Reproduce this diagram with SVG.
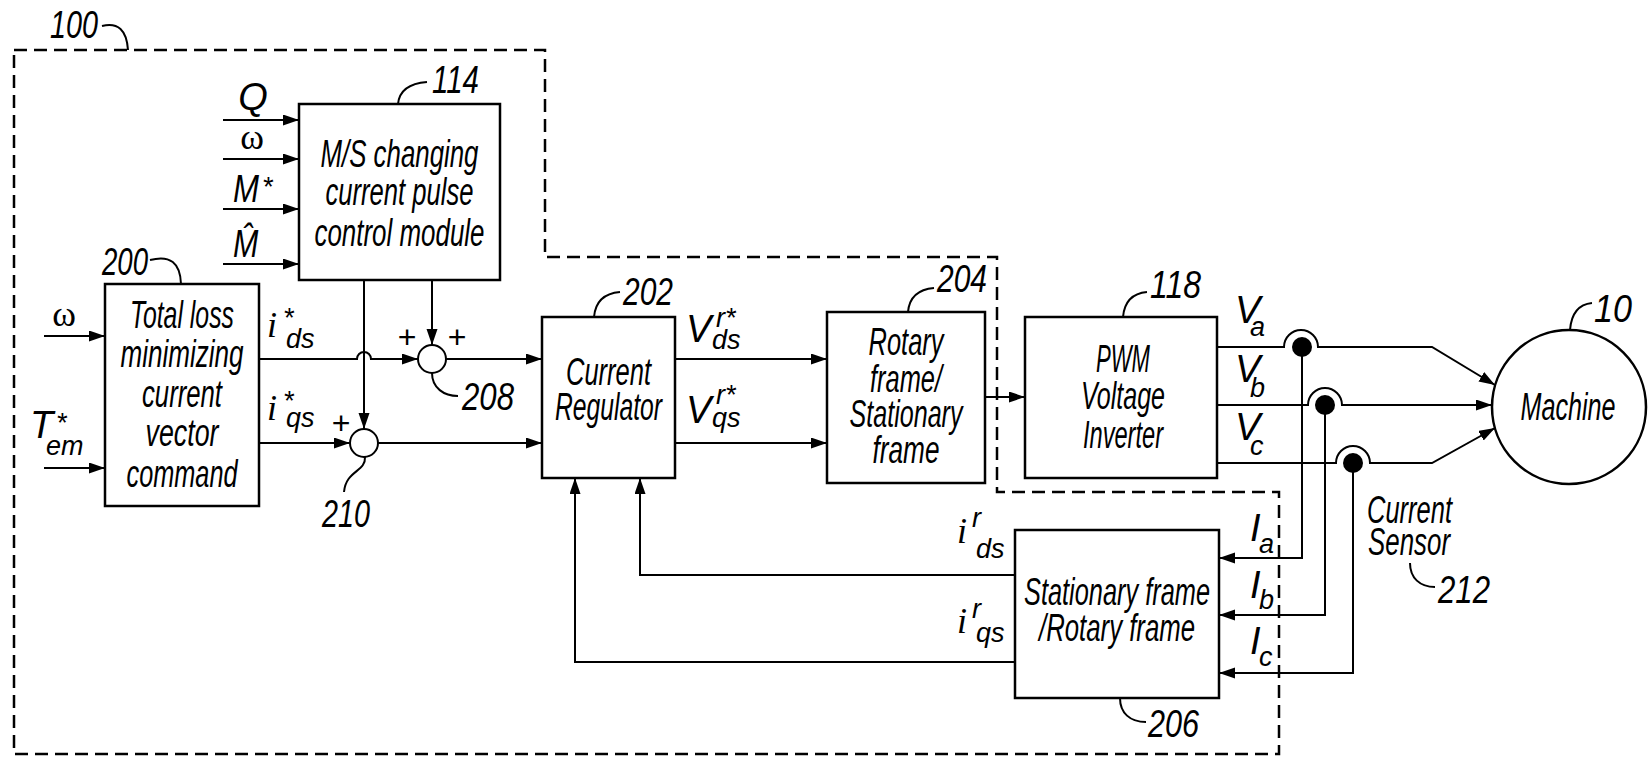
<svg xmlns="http://www.w3.org/2000/svg" width="1648" height="760" viewBox="0 0 1648 760">
<style>
.bg{fill:#fff}
.box{fill:#fff;stroke:#000;stroke-width:2.5}
.ln{fill:none;stroke:#000;stroke-width:2}
.ld{fill:none;stroke:#000;stroke-width:2}
.dash{fill:none;stroke:#000;stroke-width:2.5;stroke-dasharray:13 7}
.t{font-family:"Liberation Sans Narrow","Liberation Sans",Arial,sans-serif;font-style:italic;font-size:38px;fill:#000}
.c{text-anchor:middle}
.n{font-family:"Liberation Sans Narrow","Liberation Sans",Arial,sans-serif;font-style:italic;font-size:38px;fill:#000}
.v{font-family:"Liberation Sans Narrow","Liberation Sans",Arial,sans-serif;font-style:italic;font-size:38px;fill:#000}
.s{font-family:"Liberation Sans Narrow","Liberation Sans",Arial,sans-serif;font-style:italic;font-size:27px;fill:#000}
.g{font-family:"Liberation Serif","Times New Roman",serif;font-size:36px;fill:#000}
.mi{font-family:"Liberation Serif","Times New Roman",serif;font-style:italic;font-size:36px;fill:#000}
.p{font-family:"Liberation Sans",Arial,sans-serif;font-size:32px;fill:#000;text-anchor:middle}
</style>
<defs>
<marker id="ah" markerUnits="userSpaceOnUse" markerWidth="18" markerHeight="12" refX="16" refY="5.5" orient="auto">
<path d="M0,0 L16,5.5 L0,11 Z" fill="#000"/>
</marker>
</defs>
<rect class="bg" x="0" y="0" width="1648" height="760"/>

<g id="boundary-100">
<path class="dash" d="M14,50 H545 V257 H997 V492 H1279 V754 H14 Z"/>
<text class="n" x="50" y="38" textLength="48" lengthAdjust="spacingAndGlyphs">100</text>
<path class="ld" d="M102,26 Q126,20 128,50"/>
</g>

<g id="connectors">
<path class="ln" marker-end="url(#ah)" d="M223,120 H299"/>
<path class="ln" marker-end="url(#ah)" d="M223,159 H299"/>
<path class="ln" marker-end="url(#ah)" d="M223,209 H299"/>
<path class="ln" marker-end="url(#ah)" d="M223,264 H299"/>
<path class="ln" marker-end="url(#ah)" d="M44,336 H105"/>
<path class="ln" marker-end="url(#ah)" d="M44,468 H105"/>
<path class="ln" marker-end="url(#ah)" d="M259,359 H357 A7,7 0 0 1 371,359 H418"/>
<path class="ln" marker-end="url(#ah)" d="M259,443 H350"/>
<path class="ln" marker-end="url(#ah)" d="M364,280 V429"/>
<path class="ln" marker-end="url(#ah)" d="M432,280 V345"/>
<path class="ln" marker-end="url(#ah)" d="M446,359 H542"/>
<path class="ln" marker-end="url(#ah)" d="M378,443 H542"/>
<path class="ln" marker-end="url(#ah)" d="M675,359 H827"/>
<path class="ln" marker-end="url(#ah)" d="M675,443 H827"/>
<path class="ln" marker-end="url(#ah)" d="M985,397 H1025"/>
<path class="ln" marker-end="url(#ah)" d="M1217,347 H1284 A17,17 0 0 1 1318,347 H1432 L1495,385"/>
<path class="ln" marker-end="url(#ah)" d="M1217,405 H1308 A17,17 0 0 1 1342,405 H1492"/>
<path class="ln" marker-end="url(#ah)" d="M1217,463 H1336 A17,17 0 0 1 1370,463 H1432 L1495,428"/>
<path class="ln" marker-end="url(#ah)" d="M1302,347 V558 H1219"/>
<path class="ln" marker-end="url(#ah)" d="M1325,405 V615 H1219"/>
<path class="ln" marker-end="url(#ah)" d="M1353,463 V673 H1219"/>
<circle cx="1302" cy="347" r="10" fill="#000"/>
<circle cx="1325" cy="405" r="10" fill="#000"/>
<circle cx="1353" cy="463" r="10" fill="#000"/>
<path class="ln" marker-end="url(#ah)" d="M1015,575 H640 V478"/>
<path class="ln" marker-end="url(#ah)" d="M1015,662 H575 V478"/>
</g>

<g id="signal-labels">
<text class="v c" x="253" y="110">Q</text>
<text class="g c" x="252" y="149">ω</text>
<text class="v" x="233" y="202" textLength="26" lengthAdjust="spacingAndGlyphs">M</text>
<text class="s" x="262" y="196">*</text>
<text class="v" transform="translate(233,257) scale(0.8,1)" x="0" y="0">M&#x302;</text>
<text class="g c" x="64" y="326">ω</text>
<text class="v" x="30" y="438">T<tspan class="s" x="56" y="432">*</tspan><tspan class="s" x="46" y="455">em</tspan></text>
<text class="mi" x="267" y="337">i<tspan class="s" x="283" y="327">*</tspan><tspan class="s" x="286" y="348">ds</tspan></text>
<text class="mi" x="267" y="420">i<tspan class="s" x="283" y="410">*</tspan><tspan class="s" x="286" y="427">qs</tspan></text>
<text class="p" x="407" y="348">+</text>
<text class="p" x="457" y="348">+</text>
<text class="p" x="341" y="434">+</text>
<text class="v" x="686" y="342">V<tspan class="s" x="716" y="327">r*</tspan><tspan class="s" x="712" y="349">ds</tspan></text>
<text class="v" x="686" y="423">V<tspan class="s" x="716" y="404">r*</tspan><tspan class="s" x="712" y="427">qs</tspan></text>
<text class="v" x="1235" y="323">V<tspan class="s" x="1250" y="336">a</tspan></text>
<text class="v" x="1235" y="382">V<tspan class="s" x="1250" y="397">b</tspan></text>
<text class="v" x="1235" y="440">V<tspan class="s" x="1250" y="455">c</tspan></text>
<text class="mi" x="957" y="543">i<tspan class="s" x="972" y="527">r</tspan><tspan class="s" x="976" y="558">ds</tspan></text>
<text class="mi" x="957" y="633">i<tspan class="s" x="972" y="618">r</tspan><tspan class="s" x="976" y="642">qs</tspan></text>
<text class="v" x="1250" y="541">I<tspan class="s" x="1259" y="553">a</tspan></text>
<text class="v" x="1250" y="598">I<tspan class="s" x="1259" y="609">b</tspan></text>
<text class="v" x="1250" y="654">I<tspan class="s" x="1259" y="666">c</tspan></text>
</g>

<g id="node-114">
<rect class="box" x="299" y="104" width="201" height="176"/>
<text class="t c" x="399.5" y="167" textLength="158" lengthAdjust="spacingAndGlyphs">M/S changing</text>
<text class="t c" x="399.5" y="205" textLength="148" lengthAdjust="spacingAndGlyphs">current pulse</text>
<text class="t c" x="399.5" y="246" textLength="170" lengthAdjust="spacingAndGlyphs">control module</text>
<path class="ld" d="M398,104 Q400,84 427,82"/>
<text class="n" x="432" y="93" textLength="47" lengthAdjust="spacingAndGlyphs">114</text>
</g>

<g id="node-200">
<rect class="box" x="105" y="284" width="154" height="222"/>
<text class="t c" x="182" y="328" textLength="104" lengthAdjust="spacingAndGlyphs">Total loss</text>
<text class="t c" x="182" y="367" textLength="123" lengthAdjust="spacingAndGlyphs">minimizing</text>
<text class="t c" x="182" y="407" textLength="80" lengthAdjust="spacingAndGlyphs">current</text>
<text class="t c" x="182" y="446" textLength="73" lengthAdjust="spacingAndGlyphs">vector</text>
<text class="t c" x="182" y="487" textLength="111" lengthAdjust="spacingAndGlyphs">command</text>
<path class="ld" d="M150,260 Q180,252 181,284"/>
<text class="n" x="102" y="275" textLength="46" lengthAdjust="spacingAndGlyphs">200</text>
</g>

<g id="node-208">
<circle class="ln" cx="432" cy="359" r="14"/>
<path class="ld" d="M432,373 C432,388 444,396 458,396"/>
<text class="n" x="462" y="410" textLength="52" lengthAdjust="spacingAndGlyphs">208</text>
</g>

<g id="node-210">
<circle class="ln" cx="364" cy="443" r="14"/>
<path class="ld" d="M365,457 C366,472 346,470 344,492"/>
<text class="n" x="322" y="527" textLength="48" lengthAdjust="spacingAndGlyphs">210</text>
</g>

<g id="node-202">
<rect class="box" x="542" y="317" width="133" height="161"/>
<text class="t c" x="608.5" y="385" textLength="85" lengthAdjust="spacingAndGlyphs">Current</text>
<text class="t c" x="608.5" y="420" textLength="107" lengthAdjust="spacingAndGlyphs">Regulator</text>
<path class="ld" d="M594,317 Q596,294 620,292"/>
<text class="n" x="623" y="305" textLength="50" lengthAdjust="spacingAndGlyphs">202</text>
</g>

<g id="node-204">
<rect class="box" x="827" y="312" width="158" height="171"/>
<text class="t c" x="906" y="355" textLength="75" lengthAdjust="spacingAndGlyphs">Rotary</text>
<text class="t c" x="906" y="392" textLength="72" lengthAdjust="spacingAndGlyphs">frame/</text>
<text class="t c" x="906" y="427" textLength="113" lengthAdjust="spacingAndGlyphs">Stationary</text>
<text class="t c" x="906" y="463" textLength="67" lengthAdjust="spacingAndGlyphs">frame</text>
<path class="ld" d="M908,312 Q910,290 934,288"/>
<text class="n" x="937" y="292" textLength="50" lengthAdjust="spacingAndGlyphs">204</text>
</g>

<g id="node-118">
<rect class="box" x="1025" y="317" width="192" height="161"/>
<text class="t c" x="1123" y="372" textLength="54" lengthAdjust="spacingAndGlyphs">PWM</text>
<text class="t c" x="1123" y="409" textLength="84" lengthAdjust="spacingAndGlyphs">Voltage</text>
<text class="t c" x="1123" y="448" textLength="80" lengthAdjust="spacingAndGlyphs">Inverter</text>
<path class="ld" d="M1123,317 Q1125,294 1147,292"/>
<text class="n" x="1150" y="298" textLength="51" lengthAdjust="spacingAndGlyphs">118</text>
</g>

<g id="node-10">
<circle class="box" cx="1569" cy="407" r="77"/>
<text class="t c" x="1568" y="420" textLength="95" lengthAdjust="spacingAndGlyphs">Machine</text>
<path class="ld" d="M1570,330 Q1572,305 1592,303"/>
<text class="n" x="1594" y="322" textLength="38" lengthAdjust="spacingAndGlyphs">10</text>
</g>

<g id="node-206">
<rect class="box" x="1015" y="530" width="204" height="168"/>
<text class="t c" x="1117" y="605" textLength="186" lengthAdjust="spacingAndGlyphs">Stationary frame</text>
<text class="t c" x="1117" y="641" textLength="156" lengthAdjust="spacingAndGlyphs">/Rotary frame</text>
<path class="ld" d="M1120,698 C1120,713 1130,722 1146,722"/>
<text class="n" x="1148" y="737" textLength="51" lengthAdjust="spacingAndGlyphs">206</text>
</g>

<g id="node-212">
<text class="t" x="1367" y="523" textLength="85" lengthAdjust="spacingAndGlyphs">Current</text>
<text class="t" x="1368" y="555" textLength="82" lengthAdjust="spacingAndGlyphs">Sensor</text>
<path class="ld" d="M1410,563 C1410,578 1420,587 1435,587"/>
<text class="n" x="1438" y="603" textLength="52" lengthAdjust="spacingAndGlyphs">212</text>
</g>
</svg>
